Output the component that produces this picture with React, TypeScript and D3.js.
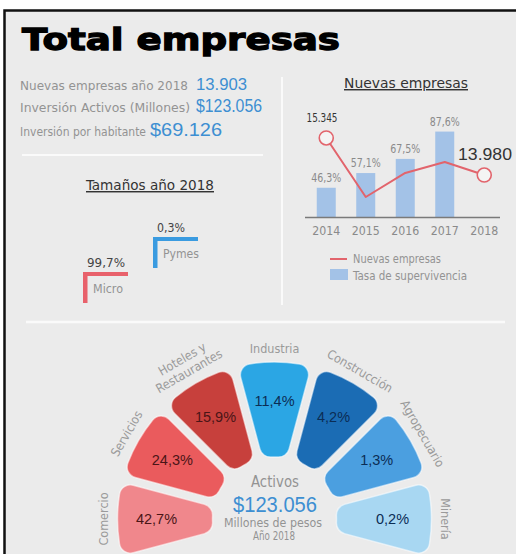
import React from 'react';
import * as d3 from 'd3';

// ---------- data ----------
const statLabels = ['Nuevas empresas año 2018', 'Inversión Activos (Millones)', 'Inversión por habitante'];
const statValues = ['13.903', '$123.056', '$69.126'];

const years = ['2014', '2015', '2016', '2017', '2018'];
const survivalRate: (number | null)[] = [46.3, 57.1, 67.5, 87.6, null];
const newCompanies = [15345, 13170, 14055, 14461, 13980];
const labelledPoints = [0, 4];

const sizeNames = ['Micro', 'Pymes'];
const sizeShares = [99.7, 0.3];
const sizeColors = ['#e8616b', '#3a9be0'];

const sectorNames = ['Comercio', 'Servicios', 'Hoteles y|Restaurantes', 'Industria', 'Construcción', 'Agropecuario', 'Minería'];
const sectorShares = [42.7, 24.3, 15.9, 11.4, 4.2, 1.3, 0.2];
const sectorColors = ['#f0878c', '#ea5b5d', '#c7403c', '#2ba6e4', '#1b6cb4', '#4b9fe0', '#a8d7f2'];
const sectorTextColors = ['#4a1517', '#4a1517', '#4a1517', '#0b2d55', '#0b2d55', '#0b2d55', '#0b2d55'];

const centerLines = ['Activos', '$123.056', 'Millones de pesos', 'Año 2018'];

// ---------- helpers ----------
const pct = (v: number) => v.toFixed(1).replace('.', ',') + '%';
const locale = d3.formatLocale({ decimal: ',', thousands: '.', grouping: [3], currency: ['$', ''] });
const fmtInt = locale.format(',d');

const GREY = '#939393';
const BLUE = '#3d8fd2';
const NARROW = "'Liberation Sans Narrow', 'Arial Narrow', 'DejaVu Sans Condensed', 'Liberation Sans', Arial, sans-serif";
const SANS = "'Liberation Sans', Arial, sans-serif";

export default function App() {
  // right chart scales
  const x = d3.scalePoint<string>().domain(years).range([306.5, 504]).padding(0.5);
  const yBar = d3.scaleLinear().domain([24.8, 90]).range([217, 128.3]);
  const yLine = d3.scaleLinear().domain([13000, 16000]).range([201.6, 120.2]);
  const barW = 19;
  const line = d3
    .line<number>()
    .x((_, i) => x(years[i]) as number)
    .y((d) => yLine(d))
    .curve(d3.curveLinear);

  // size chart scales
  const sx = d3.scalePoint<string>().domain(sizeNames).range([83, 153]);
  const sy = d3.scaleLinear().domain([0, 1]).range([272, 237]);

  // fan
  const cx = 274.5;
  const cy = 519;
  const half = Math.PI / 12;
  const angle = d3.scaleLinear().domain([0, sectorNames.length - 1]).range([-Math.PI / 2, Math.PI / 2]);
  const arc = d3
    .arc<any>()
    .innerRadius(62)
    .outerRadius(157)
    .cornerRadius(11)
    .padAngle(0.05)
    .padRadius(160);

  return (
    <svg
      width={516}
      height={554}
      style={{ position: 'absolute', left: 0, top: 0, background: '#fff' }}
      fontFamily={SANS}
    >
      <rect x={4.5} y={10.5} width={530} height={570} fill="#ebebeb" stroke="#111" strokeWidth={2.5} />

      {/* title */}
      <text x={22} y={50} fontFamily="'DejaVu Sans', sans-serif" fontWeight={900} fontSize={31}
        textLength={318} lengthAdjust="spacingAndGlyphs" fill="#000" stroke="#000" strokeWidth={1.3}>
        Total empresas
      </text>

      {/* stats */}
      {statLabels.map((s, i) => {
        const yy = [90, 112, 136][i];
        const lw = [168, 170, 126][i];
        const vx = [196, 196, 150][i];
        const vw = [51, 66, 72][i];
        const fs = [17, 18, 19][i];
        return (
          <g key={s}>
            <text x={20} y={yy} fontFamily={NARROW} fontSize={11.5} fill={GREY} textLength={lw} lengthAdjust="spacingAndGlyphs">{s}</text>
            <text x={vx} y={yy} fontSize={fs} fill={BLUE} textLength={vw} lengthAdjust="spacingAndGlyphs">{statValues[i]}</text>
          </g>
        );
      })}

      {/* dividers */}
      <line x1={22} x2={263} y1={155} y2={155} stroke="#fafafa" strokeWidth={2} />
      <line x1={282} x2={282} y1={77} y2={305} stroke="#fafafa" strokeWidth={2} />
      <line x1={26} x2={505} y1={322} y2={322} stroke="#fafafa" strokeWidth={2.5} />

      {/* Tamaños */}
      <text x={150} y={190} textAnchor="middle" fontFamily={NARROW} fontSize={14.5} fill="#333" textDecoration="underline"
        textLength={128} lengthAdjust="spacingAndGlyphs">Tamaños año 2018</text>
      {sizeNames.map((n, i) => {
        const px = sx(n) as number;
        const py = sy(i);
        return (
          <g key={n}>
            <text x={px + 4} y={py - 5} fontFamily={NARROW} fontSize={12.5} fill="#444" textLength={i === 0 ? 38 : 28} lengthAdjust="spacingAndGlyphs">{pct(sizeShares[i])}</text>
            <rect x={px} y={py} width={4.5} height={31} fill={sizeColors[i]} />
            <rect x={px} y={py} width={45} height={4} fill={sizeColors[i]} />
            <text x={px + 10} y={py + 21} fontFamily={NARROW} fontSize={11.5} fill={GREY} textLength={i === 0 ? 30 : 36} lengthAdjust="spacingAndGlyphs">{n}</text>
          </g>
        );
      })}

      {/* Nuevas empresas chart */}
      <text x={406} y={88} textAnchor="middle" fontFamily={NARROW} fontSize={14.5} fill="#333" textDecoration="underline"
        textLength={124} lengthAdjust="spacingAndGlyphs">Nuevas empresas</text>
      {survivalRate.map((v, i) =>
        v == null ? null : (
          <g key={years[i]}>
            <rect x={(x(years[i]) as number) - barW / 2} y={yBar(v)} width={barW} height={217 - yBar(v)} fill="#a3c2e7" />
            <text x={x(years[i]) as number} y={yBar(v) - 6} textAnchor="middle" fontFamily={NARROW} fontSize={12} fill="#8a8a8a"
              textLength={30} lengthAdjust="spacingAndGlyphs">{pct(v)}</text>
          </g>
        )
      )}
      <line x1={305} x2={500} y1={217.5} y2={217.5} stroke="#7a7a7a" strokeWidth={1.5} />
      {years.map((yr) => (
        <text key={yr} x={x(yr) as number} y={235} textAnchor="middle" fontFamily={NARROW} fontSize={12.5} fill="#8a8a8a"
          textLength={28} lengthAdjust="spacingAndGlyphs">{yr}</text>
      ))}
      <path d={line(newCompanies) || ''} fill="none" stroke="#e2646c" strokeWidth={2} strokeLinejoin="round" />
      {labelledPoints.map((i) => (
        <circle key={i} cx={x(years[i]) as number} cy={yLine(newCompanies[i])} r={7} fill="#f4f4f4" stroke="#e2646c" strokeWidth={1.6} />
      ))}
      <text x={322} y={122} textAnchor="middle" fontFamily={NARROW} fontSize={13} fill="#333" textLength={31} lengthAdjust="spacingAndGlyphs">{fmtInt(newCompanies[0])}</text>
      <text x={485} y={160} textAnchor="middle" fontSize={17} fill="#333" textLength={54} lengthAdjust="spacingAndGlyphs">{fmtInt(newCompanies[4])}</text>

      {/* legend */}
      <line x1={330} x2={347} y1={259} y2={259} stroke="#e2646c" strokeWidth={2} />
      <text x={353} y={263} fontFamily={NARROW} fontSize={12} fill={GREY} textLength={88} lengthAdjust="spacingAndGlyphs">Nuevas empresas</text>
      <rect x={330} y={269} width={18} height={11} fill="#a3c2e7" />
      <text x={353} y={280} fontFamily={NARROW} fontSize={12} fill={GREY} textLength={114} lengthAdjust="spacingAndGlyphs">Tasa de supervivencia</text>

      {/* fan */}
      <g transform={`translate(${cx},${cy})`}>
        {sectorNames.map((n, i) => {
          const a = angle(i);
          return (
            <path key={n} d={arc({ startAngle: a - half, endAngle: a + half }) || ''} fill={sectorColors[i]}
              stroke="#ffffff" strokeOpacity={0.55} strokeWidth={1.5} />
          );
        })}
        {sectorNames.map((n, i) => {
          const a = angle(i);
          const r = 118;
          return (
            <text key={n + 'v'} x={r * Math.sin(a)} y={-r * Math.cos(a)} textAnchor="middle" dominantBaseline="central"
              fontSize={14.5} fill={sectorTextColors[i]}>{pct(sectorShares[i])}</text>
          );
        })}
        {sectorNames.map((n, i) => {
          const a = angle(i);
          const deg = (a * 180) / Math.PI;
          const parts = n.split('|');
          return (
            <g key={n + 'l'} transform={`rotate(${deg})`}>
              {parts.map((p, j) => (
                <text key={p} x={0} y={parts.length > 1 ? -(185 - j * 14) : -171} textAnchor="middle" dominantBaseline="central"
                  fontFamily={NARROW} fontSize={12.5} fill="#9a9a9a">{p}</text>
              ))}
            </g>
          );
        })}
      </g>
      <text x={275} y={487} textAnchor="middle" fontFamily={NARROW} fontSize={15} fill={GREY} textLength={48} lengthAdjust="spacingAndGlyphs">{centerLines[0]}</text>
      <text x={275} y={512} textAnchor="middle" fontSize={22} fill={BLUE} textLength={84} lengthAdjust="spacingAndGlyphs">{centerLines[1]}</text>
      <text x={273} y={527} textAnchor="middle" fontFamily={NARROW} fontSize={11.5} fill={GREY} textLength={98} lengthAdjust="spacingAndGlyphs">{centerLines[2]}</text>
      <text x={274} y={540} textAnchor="middle" fontFamily={NARROW} fontSize={11.5} fill={GREY} textLength={42} lengthAdjust="spacingAndGlyphs">{centerLines[3]}</text>
    </svg>
  );
}
